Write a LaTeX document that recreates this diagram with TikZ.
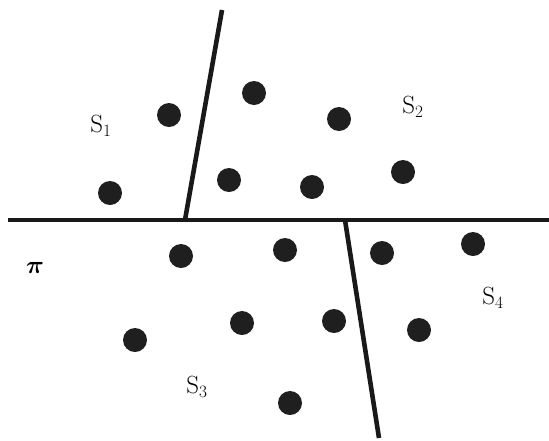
\documentclass[tikz,border=0pt]{standalone}
\usepackage{amsmath,amssymb}
\usepackage{tikz}
\usetikzlibrary{positioning}
\tikzset{
  datapt/.style={circle,fill=black!88,minimum size=24pt,inner sep=0pt},
  regionlbl/.style={font=\fontsize{25}{29}\selectfont,inner sep=0pt},
  cutline/.style={line width=4.6pt,black!90},
}

\begin{document}
\begin{tikzpicture}[x=1pt,y=-1pt]
\useasboundingbox (0,0) rectangle (549,440);

% cut lines
\coordinate (hl) at (8,220);
\coordinate (hr) at (549,220);
\coordinate (ut) at (222,10);
\coordinate (ub) at (185,220);
\coordinate (lt) at (345,220);
\coordinate (lb) at (379,438);

\draw[cutline] (hl) -- (hr);
\draw[cutline] (ut) -- (ub);
\draw[cutline] (lt) -- (lb);

% points of S1 and S2
\node[datapt] (p1) at (169,115) {};
\node[datapt] (p2) at (254,93) {};
\node[datapt] (p3) at (339,119) {};
\node[datapt] (p4) at (110,193) {};
\node[datapt] (p5) at (229,180) {};
\node[datapt] (p6) at (312,187) {};
\node[datapt] (p7) at (403,172) {};

% points of S3 and S4
\node[datapt] (p8) at (181,256) {};
\node[datapt] (p9) at (285,250) {};
\node[datapt] (p10) at (382,253) {};
\node[datapt] (p11) at (473,244) {};
\node[datapt] (p12) at (135,340) {};
\node[datapt] (p13) at (242,323) {};
\node[datapt] (p14) at (334,321) {};
\node[datapt] (p15) at (419,330) {};
\node[datapt] (p16) at (290,403) {};

% labels
\node[regionlbl] (s1) at (101,126) {$\mathrm{S}_1$};
\node[regionlbl] (s2) at (413,107) {$\mathrm{S}_2$};
\node[regionlbl] (s3) at (197,387) {$\mathrm{S}_3$};
\node[regionlbl] (s4) at (493,298) {$\mathrm{S}_4$};
\node[regionlbl] (pi) at (35,268) {$\boldsymbol{\pi}$};

\end{tikzpicture}
\end{document}
